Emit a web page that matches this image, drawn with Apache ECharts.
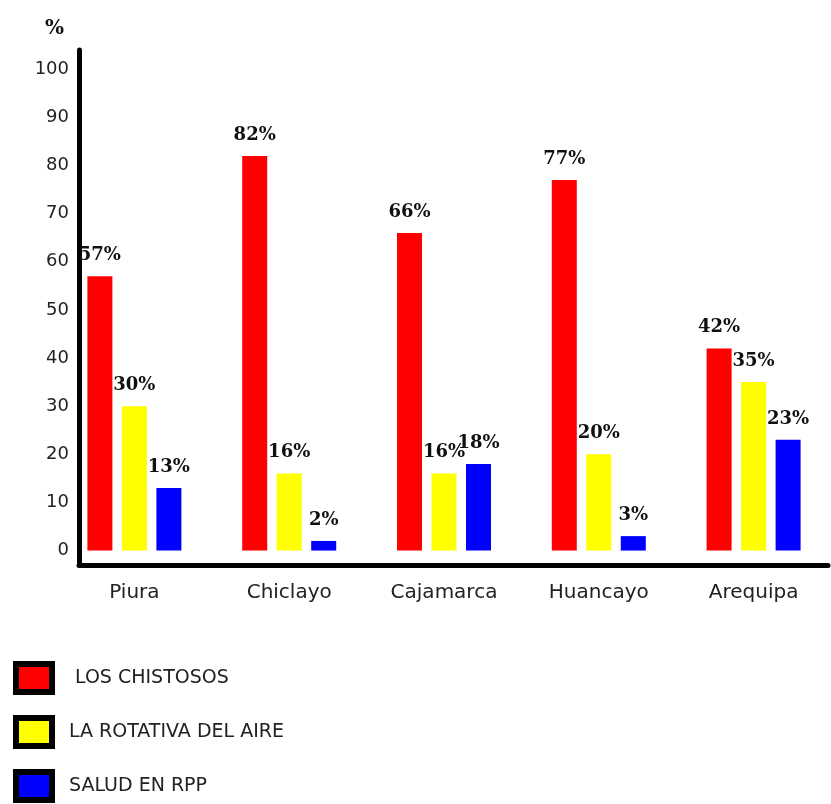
<!DOCTYPE html>
<html>
<head>
<meta charset="utf-8">
<script src="https://cdn.jsdelivr.net/npm/echarts@6/dist/echarts.min.js"></script>
<style>
  html, body { margin: 0; padding: 0; background: #fff; }
  #main { width: 831px; height: 804px; }
</style>
</head>
<body>
<div id="main"></div>
<script>
  var ciudades = ['Piura', 'Chiclayo', 'Cajamarca', 'Huancayo', 'Arequipa'];
  var chistosos = [57, 82, 66, 77, 42];
  var rotativa = [30, 16, 16, 20, 35];
  var saludRpp = [13, 2, 18, 3, 23];
  var marcasY = [0, 10, 20, 30, 40, 50, 60, 70, 80, 90, 100];
  var nombres = ['LOS CHISTOSOS', 'LA ROTATIVA DEL AIRE', 'SALUD EN RPP'];

  var fuente = '"DejaVu Sans", sans-serif';
  var etiqueta = {
    show: true,
    position: 'top',
    distance: 12,
    formatter: '{c}%',
    color: '#111',
    fontFamily: '"DejaVu Serif", serif',
    fontWeight: 'bold',
    fontSize: 18
  };

  // una leyenda por serie, apiladas a la izquierda
  var topsLeyenda = [661, 715, 769];
  var leyendas = nombres.map(function (n, i) {
    return {
      left: 13,
      top: topsLeyenda[i],
      padding: 0,
      itemWidth: 36,
      itemHeight: 28,
      icon: 'rect',
      itemStyle: { borderColor: '#000', borderWidth: 6 },
      textStyle: { fontFamily: fuente, fontSize: 19, color: '#222', padding: [0, 0, 0, i === 0 ? 18 : 12] },
      data: [n]
    };
  });

  var chart = echarts.init(document.getElementById('main'));
  chart.setOption({
    animation: false,
    backgroundColor: '#fff',
    title: {
      text: '%',
      left: 40,
      top: 14,
      textStyle: { fontFamily: '"DejaVu Serif", serif', fontWeight: 'bold', fontSize: 20, color: '#111' }
    },
    legend: leyendas,
    grid: [
      { left: 57, width: 778, top: 50, bottom: 239 },
      { left: 79, right: 3, top: 50, bottom: 239 }
    ],
    xAxis: [
      {
        type: 'category',
        gridIndex: 0,
        data: ciudades,
        axisLine: { show: false },
        axisTick: { show: false },
        axisLabel: { margin: 18, fontFamily: fuente, fontSize: 20, color: '#222' }
      },
      {
        type: 'value',
        gridIndex: 1,
        min: 0,
        max: 1,
        axisLine: { show: true, onZero: false, lineStyle: { color: '#000', width: 5 } },
        axisTick: { show: false },
        axisLabel: { show: false },
        splitLine: { show: false }
      }
    ],
    yAxis: [
      {
        type: 'value',
        gridIndex: 0,
        min: -3,
        max: 104,
        show: false
      },
      {
        type: 'value',
        gridIndex: 1,
        min: -3,
        max: 104,
        axisLine: { show: true, onZero: false, lineStyle: { color: '#000', width: 5 } },
        axisTick: { show: false },
        splitLine: { show: false },
        axisLabel: {
          customValues: marcasY,
          margin: 10,
          fontFamily: fuente,
          fontSize: 18,
          color: '#222'
        }
      }
    ],
    series: [
      {
        name: nombres[0],
        type: 'bar',
        xAxisIndex: 0,
        yAxisIndex: 0,
        barWidth: 25,
        barGap: '38%',
        itemStyle: { color: '#ff0000' },
        label: etiqueta,
        data: chistosos
      },
      {
        name: nombres[1],
        type: 'bar',
        xAxisIndex: 0,
        yAxisIndex: 0,
        barWidth: 25,
        barGap: '38%',
        itemStyle: { color: '#ffff00' },
        label: etiqueta,
        data: rotativa
      },
      {
        name: nombres[2],
        type: 'bar',
        xAxisIndex: 0,
        yAxisIndex: 0,
        barWidth: 25,
        barGap: '38%',
        itemStyle: { color: '#0000ff' },
        label: etiqueta,
        data: saludRpp
      }
    ]
  });
</script>
</body>
</html>
